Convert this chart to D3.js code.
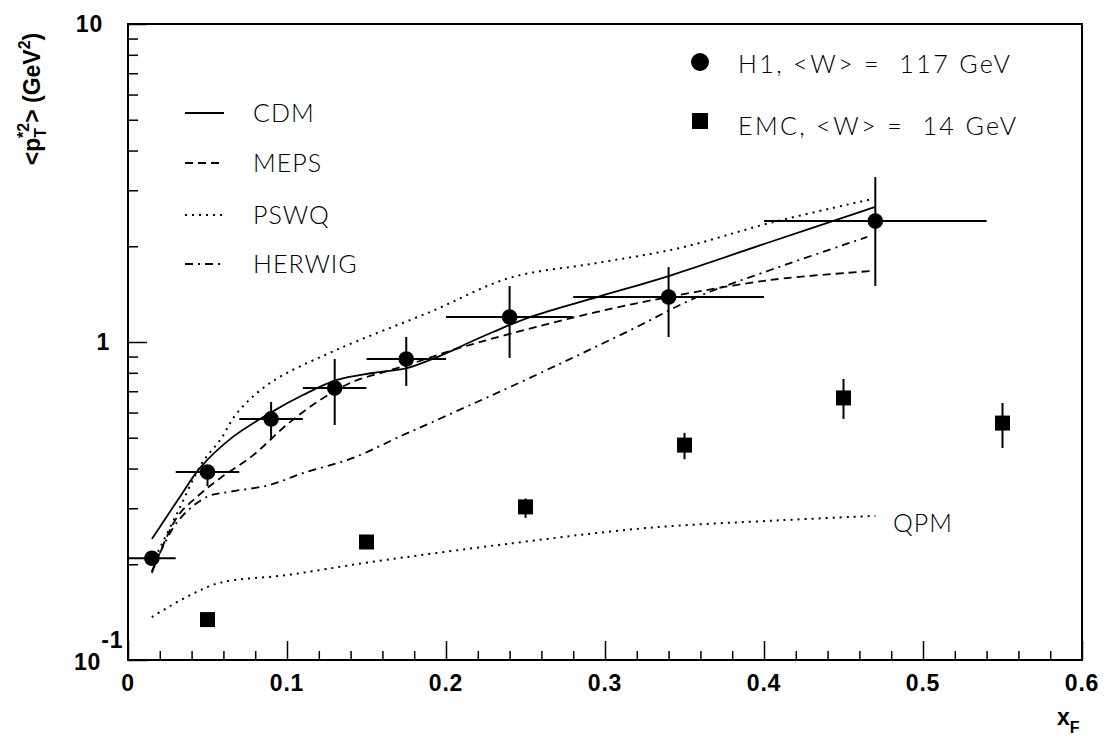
<!DOCTYPE html>
<html>
<head>
<meta charset="utf-8">
<script src="https://cdn.jsdelivr.net/npm/d3@7"></script>
<style>
  body { margin: 0; background: #fff; }
  svg { display: block; }
  .tick-label { font-family: "Liberation Sans", Arial, sans-serif; font-weight: bold; font-size: 23px; letter-spacing: 0.8px; }
  .thin { font-family: "Lato", "Roboto", sans-serif; font-weight: 300; font-size: 25px; letter-spacing: 1px; }
  .thin.wide { letter-spacing: 2.4px; }
</style>
</head>
<body>
<svg id="chart" width="1105" height="738"></svg>
<script>
// Globals
const width = 1105, height = 738;
const svg = d3.select("#chart");
const margin = { top: 24, right: 23, bottom: 78, left: 128 };

// H1 data, <W> = 117 GeV
const h1X = [0.015, 0.05, 0.09, 0.13, 0.175, 0.24, 0.34, 0.47];
const h1XLo = [0, 0.03, 0.07, 0.11, 0.15, 0.20, 0.28, 0.40];
const h1XHi = [0.03, 0.07, 0.11, 0.15, 0.20, 0.28, 0.40, 0.54];
const h1Val = [0.209, 0.390, 0.573, 0.717, 0.884, 1.198, 1.385, 2.40];
const h1Lo = [0.200, 0.352, 0.492, 0.548, 0.727, 0.891, 1.037, 1.50];
const h1Hi = [0.218, 0.41, 0.648, 0.884, 1.037, 1.50, 1.72, 3.30];

// EMC data, <W> = 14 GeV
const emcX = [0.05, 0.15, 0.25, 0.35, 0.45, 0.55];
const emcVal = [0.134, 0.235, 0.303, 0.474, 0.667, 0.556];
const emcLo = [0.128, 0.225, 0.28, 0.428, 0.573, 0.464];
const emcHi = [0.140, 0.245, 0.322, 0.518, 0.765, 0.643];

// model curves
const cdmX = [0.015, 0.0327, 0.0453, 0.066, 0.0906, 0.110, 0.1314, 0.154, 0.1755, 0.190, 0.2006, 0.214, 0.2296, 0.2528, 0.295, 0.340, 0.4038, 0.47];
const cdmY = [0.240, 0.326, 0.402, 0.503, 0.603, 0.681, 0.760, 0.799, 0.828, 0.878, 0.924, 0.993, 1.075, 1.198, 1.385, 1.612, 2.063, 2.66];
const mepsX = [0.015, 0.031, 0.0434, 0.058, 0.0786, 0.100, 0.1208, 0.1415, 0.163, 0.183, 0.2044, 0.242, 0.295, 0.340, 0.404, 0.468];
const mepsY = [0.188, 0.282, 0.326, 0.373, 0.44, 0.55, 0.657, 0.75, 0.81, 0.87, 0.944, 1.067, 1.243, 1.385, 1.567, 1.672];
const pswqX = [0.015, 0.031, 0.0465, 0.058, 0.0686, 0.0893, 0.131, 0.19, 0.240, 0.295, 0.347, 0.404, 0.4686];
const pswqY = [0.20, 0.290, 0.416, 0.492, 0.598, 0.743, 0.944, 1.243, 1.59, 1.772, 1.975, 2.37, 2.82];
const herwigX = [0.015, 0.031, 0.0497, 0.064, 0.089, 0.110, 0.1415, 0.173, 0.19, 0.211, 0.232, 0.274, 0.316, 0.358, 0.404, 0.465];
const herwigY = [0.19, 0.272, 0.326, 0.338, 0.355, 0.387, 0.432, 0.510, 0.556, 0.620, 0.691, 0.865, 1.09, 1.385, 1.684, 2.14];
const qpmX = [0.015, 0.037, 0.058, 0.100, 0.152, 0.242, 0.326, 0.41, 0.47];
const qpmY = [0.1365, 0.158, 0.175, 0.185, 0.203, 0.233, 0.26, 0.275, 0.284];

const xTicks = [0, 0.1, 0.2, 0.3, 0.4, 0.5, 0.6];
const xTickLabels = ["0", "0.1", "0.2", "0.3", "0.4", "0.5", "0.6"];
const yMajor = [0.1, 1, 10];
const yMinor = [0.2, 0.3, 0.4, 0.5, 0.6, 0.7, 0.8, 0.9, 2, 3, 4, 5, 6, 7, 8, 9];

const x = d3.scaleLinear()
  .domain([0, 0.6])
  .range([margin.left, width - margin.right]);

const y = d3.scaleLog()
  .domain([0.1, 10])
  .range([height - margin.bottom, margin.top]);

// axes (ticks point inwards)
const xMinor = d3.range(0, 0.6001, 0.02).filter(v => Math.abs(v * 10 - Math.round(v * 10)) > 1e-6);
svg.append("g")
  .attr("transform", `translate(0,${height - margin.bottom})`)
  .call(d3.axisBottom(x).tickValues(xTicks).tickSize(-19).tickFormat(""))
  .call(g => g.select(".domain").remove());
svg.append("g")
  .attr("transform", `translate(0,${height - margin.bottom})`)
  .call(d3.axisBottom(x).tickValues(xMinor).tickSize(-9).tickFormat(""))
  .call(g => g.select(".domain").remove());
svg.append("g")
  .attr("transform", `translate(${margin.left},0)`)
  .call(d3.axisLeft(y).tickValues(yMajor).tickSize(-19).tickFormat(""))
  .call(g => g.select(".domain").remove());
svg.append("g")
  .attr("transform", `translate(${margin.left},0)`)
  .call(d3.axisLeft(y).tickValues(yMinor).tickSize(-10).tickFormat(""))
  .call(g => g.select(".domain").remove());
svg.selectAll(".tick line").attr("stroke", "#000").attr("stroke-width", 1.5);

// frame
svg.append("rect")
  .attr("x", x(0)).attr("y", y(10))
  .attr("width", x(0.6) - x(0)).attr("height", y(0.1) - y(10))
  .attr("fill", "none").attr("stroke", "#000").attr("stroke-width", 2);

// tick labels
svg.selectAll(".xlab")
  .data(xTicks)
  .enter()
  .append("text")
  .attr("class", "tick-label")
  .attr("x", d => x(d))
  .attr("y", height - margin.bottom + 31)
  .attr("text-anchor", "middle")
  .text((d, i) => xTickLabels[i]);

svg.append("text").attr("class", "tick-label")
  .attr("x", 103).attr("y", y(10) + 8).attr("text-anchor", "end").text("10");
svg.append("text").attr("class", "tick-label")
  .attr("x", 110).attr("y", y(1) + 8).attr("text-anchor", "end").text("1");
const tenM1 = svg.append("text").attr("class", "tick-label")
  .attr("x", 74).attr("y", y(0.1) + 10);
tenM1.append("tspan").text("10");
tenM1.append("tspan").attr("dy", -22).attr("dx", 0).text("-1");

// axis titles
const xt = svg.append("text")
  .attr("x", 1057).attr("y", 725)
  .style("font-family", "Liberation Sans, Arial, sans-serif")
  .style("font-weight", "bold").style("font-size", "23px");
xt.append("tspan").text("x");
xt.append("tspan").attr("dy", 8).style("font-size", "16px").text("F");

const yt = svg.append("text")
  .attr("transform", "translate(40,99) rotate(-90)")
  .attr("text-anchor", "middle")
  .style("font-family", "Liberation Sans, Arial, sans-serif")
  .style("font-weight", "bold").style("font-size", "23px");
yt.append("tspan").text("<p");
yt.append("tspan").attr("dy", 6).style("font-size", "16px").text("T");
yt.append("tspan").attr("dy", -17).attr("dx", -10).style("font-size", "16px").text("*2");
yt.append("tspan").attr("dy", 11).text("> (GeV");
yt.append("tspan").attr("dy", -10).style("font-size", "16px").text("2");
yt.append("tspan").attr("dy", 10).text(")");

// curves
const line = d3.line()
  .x(d => x(d[0]))
  .y(d => y(d[1]))
  .curve(d3.curveCatmullRom);

const curves = [
  { xs: cdmX, ys: cdmY, dash: null },
  { xs: mepsX, ys: mepsY, dash: "8,5" },
  { xs: pswqX, ys: pswqY, dash: "2,5" },
  { xs: herwigX, ys: herwigY, dash: "8,5,2,5" },
  { xs: qpmX, ys: qpmY, dash: "2,5" }
];
curves.forEach(c => {
  svg.append("path")
    .datum(d3.zip(c.xs, c.ys))
    .attr("d", line)
    .attr("fill", "none")
    .attr("stroke", "#000")
    .attr("stroke-width", c.dash === "2,5" ? 2 : 1.8)
    .attr("stroke-dasharray", c.dash);
});

// H1 points
const h1 = h1X.map((v, i) => ({ x: v, xl: h1XLo[i], xh: h1XHi[i], v: h1Val[i], lo: h1Lo[i], hi: h1Hi[i] }));
const gH1 = svg.append("g");
gH1.selectAll(".xerr").data(h1).enter().append("line")
  .attr("x1", d => x(d.xl)).attr("x2", d => x(d.xh))
  .attr("y1", d => y(d.v)).attr("y2", d => y(d.v))
  .attr("stroke", "#000").attr("stroke-width", 2);
gH1.selectAll(".yerr").data(h1).enter().append("line")
  .attr("x1", d => x(d.x)).attr("x2", d => x(d.x))
  .attr("y1", d => y(d.lo)).attr("y2", d => y(d.hi))
  .attr("stroke", "#000").attr("stroke-width", 2);
gH1.selectAll("circle").data(h1).enter().append("circle")
  .attr("cx", d => x(d.x)).attr("cy", d => y(d.v))
  .attr("r", 7.8).attr("fill", "#000");

// EMC points
const emc = emcX.map((v, i) => ({ x: v, v: emcVal[i], lo: emcLo[i], hi: emcHi[i] }));
const gEmc = svg.append("g");
gEmc.selectAll("line").data(emc).enter().append("line")
  .attr("x1", d => x(d.x)).attr("x2", d => x(d.x))
  .attr("y1", d => y(d.lo)).attr("y2", d => y(d.hi))
  .attr("stroke", "#000").attr("stroke-width", 2);
gEmc.selectAll("rect").data(emc).enter().append("rect")
  .attr("x", d => x(d.x) - 7.5).attr("y", d => y(d.v) - 7.5)
  .attr("width", 15).attr("height", 15).attr("fill", "#000");

// legend, left
const legendItems = [
  { name: "CDM", dash: null, y: 113 },
  { name: "MEPS", dash: "8,5", y: 163 },
  { name: "PSWQ", dash: "2,5", y: 215 },
  { name: "HERWIG", dash: "8,5,2,5", y: 264 }
];
legendItems.forEach(d => {
  svg.append("line")
    .attr("x1", 185).attr("x2", 224).attr("y1", d.y).attr("y2", d.y)
    .attr("stroke", "#000").attr("stroke-width", d.dash === "2,5" ? 2 : 1.8)
    .attr("stroke-dasharray", d.dash);
  svg.append("text").attr("class", "thin")
    .attr("x", 253).attr("y", d.y + 9).text(d.name);
});

// legend, right
svg.append("circle").attr("cx", 700).attr("cy", 62).attr("r", 9).attr("fill", "#000");
svg.append("text").attr("class", "thin wide").attr("x", 738).attr("y", 73).text("H1, <W> =  117 GeV").attr("xml:space", "preserve");
svg.append("rect").attr("x", 692).attr("y", 113).attr("width", 16).attr("height", 16).attr("fill", "#000");
svg.append("text").attr("class", "thin wide").attr("x", 738).attr("y", 135).text("EMC, <W> =  14 GeV").attr("xml:space", "preserve");

// QPM label
svg.append("text").attr("class", "thin").attr("x", 893).attr("y", 532).text("QPM");
</script>
</body>
</html>
